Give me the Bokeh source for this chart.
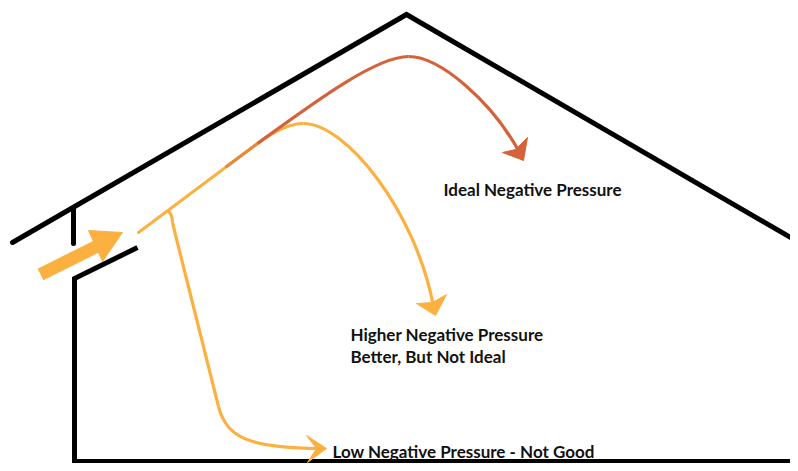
from bokeh.plotting import figure
from bokeh.models import Range1d
from bokeh.core.properties import value
from bokeh.embed import file_html
from bokeh.resources import INLINE

# ---- diagram geometry (picture pixel coordinates, y down) ----
roof_x = [12, 406, 797]
roof_y = [242, 14, 241]
eave_x = [73, 73]
eave_y = [208, 243]
wall_x = [137, 74, 74, 797]
wall_y = [247, 278, 461, 461]

# incoming air arrow
inflow_x = [40, 96]
inflow_y = [274, 246]
inflow_head_x = [88, 122, 102]
inflow_head_y = [230, 232, 261]

# shared airflow trunk
trunk_x = [138, 257]
trunk_y = [232, 143]
trunk_red_x = [226, 257]
trunk_red_y = [166, 143]

# ideal path (red)
ideal_x0 = [257, 408]; ideal_y0 = [143, 56]
ideal_x1 = [408, 519]; ideal_y1 = [56, 152]
ideal_cx0 = [312, 440]; ideal_cy0 = [103, 56]
ideal_cx1 = [375, 492]; ideal_cy1 = [56, 102]
ideal_head_x = [523, 502, 515, 527]
ideal_head_y = [160, 152, 149, 137]

# higher negative pressure path
mid_x0 = [257, 303]; mid_y0 = [143, 123]
mid_x1 = [303, 433]; mid_y1 = [123, 306]
mid_cx0 = [272, 345]; mid_cy0 = [132, 123]
mid_cx1 = [288, 415]; mid_cy1 = [123, 210]
mid_head_x = [435, 416, 432, 446]
mid_head_y = [315, 303, 302, 294]

# low negative pressure path
low_x0 = [167, 172, 218]; low_y0 = [210, 222, 406]
low_x1 = [172, 218, 318]; low_y1 = [222, 406, 448]
low_cx0 = [171, 187, 226]; low_cy0 = [213, 284, 438]
low_cx1 = [172, 203, 250]; low_cy1 = [217, 346, 447]
low_head_x = [326, 306, 316, 307]
low_head_y = [448, 435, 448, 462]

# labels (y = vertical centre of the text line)
label_text = ["Ideal Negative Pressure", "Higher Negative Pressure",
              "Better, But Not Ideal", "Low Negative Pressure - Not Good"]
label_x = [443, 350, 350, 332]
label_y = [189, 334, 356, 451]

YELLOW = "#FBB040"
RED = "#D4623A"
BLACK = "#000000"

W, H = 790, 463
p = figure(width=W, height=H, x_range=Range1d(0, W), y_range=Range1d(H, 0),
           output_backend="svg", toolbar_location=None, min_border=0)
p.axis.visible = False
p.grid.visible = False
p.outline_line_color = None
p.background_fill_color = "white"
p.border_fill_color = "white"

# house outline
p.line(roof_x, roof_y, line_color=BLACK, line_width=5, line_cap="round", line_join="miter")
p.line(eave_x, eave_y, line_color=BLACK, line_width=5, line_cap="round")
p.line(wall_x, wall_y, line_color=BLACK, line_width=5, line_cap="butt", line_join="miter")

# inflow arrow
p.line(inflow_x, inflow_y, line_color=YELLOW, line_width=13, line_cap="butt")
p.patch(inflow_head_x, inflow_head_y, fill_color=YELLOW, line_color=YELLOW, line_width=1)

# trunk
p.line(trunk_x, trunk_y, line_color=YELLOW, line_width=3, line_cap="round")
p.line(trunk_red_x, trunk_red_y, line_color="#E58A3C", line_width=3, line_cap="round")

# middle path
p.bezier(x0=mid_x0, y0=mid_y0, x1=mid_x1, y1=mid_y1, cx0=mid_cx0, cy0=mid_cy0,
         cx1=mid_cx1, cy1=mid_cy1, line_color=YELLOW, line_width=3.2)
p.patch(mid_head_x, mid_head_y, fill_color=YELLOW, line_color=YELLOW, line_width=1)

# ideal path
p.bezier(x0=ideal_x0, y0=ideal_y0, x1=ideal_x1, y1=ideal_y1, cx0=ideal_cx0, cy0=ideal_cy0,
         cx1=ideal_cx1, cy1=ideal_cy1, line_color=RED, line_width=3.2)
p.patch(ideal_head_x, ideal_head_y, fill_color=RED, line_color=RED, line_width=1)

# low path
p.bezier(x0=low_x0, y0=low_y0, x1=low_x1, y1=low_y1, cx0=low_cx0, cy0=low_cy0,
         cx1=low_cx1, cy1=low_cy1, line_color=YELLOW, line_width=3.2)
p.patch(low_head_x, low_head_y, fill_color=YELLOW, line_color=YELLOW, line_width=1)

# labels
p.text(x=label_x, y=label_y, text=label_text, text_font=value("Lato"),
       text_font_style="bold", text_font_size="17px", text_color="#111111",
       text_baseline="middle", text_align="left")

open("out.html", "w").write(file_html(p, INLINE))
